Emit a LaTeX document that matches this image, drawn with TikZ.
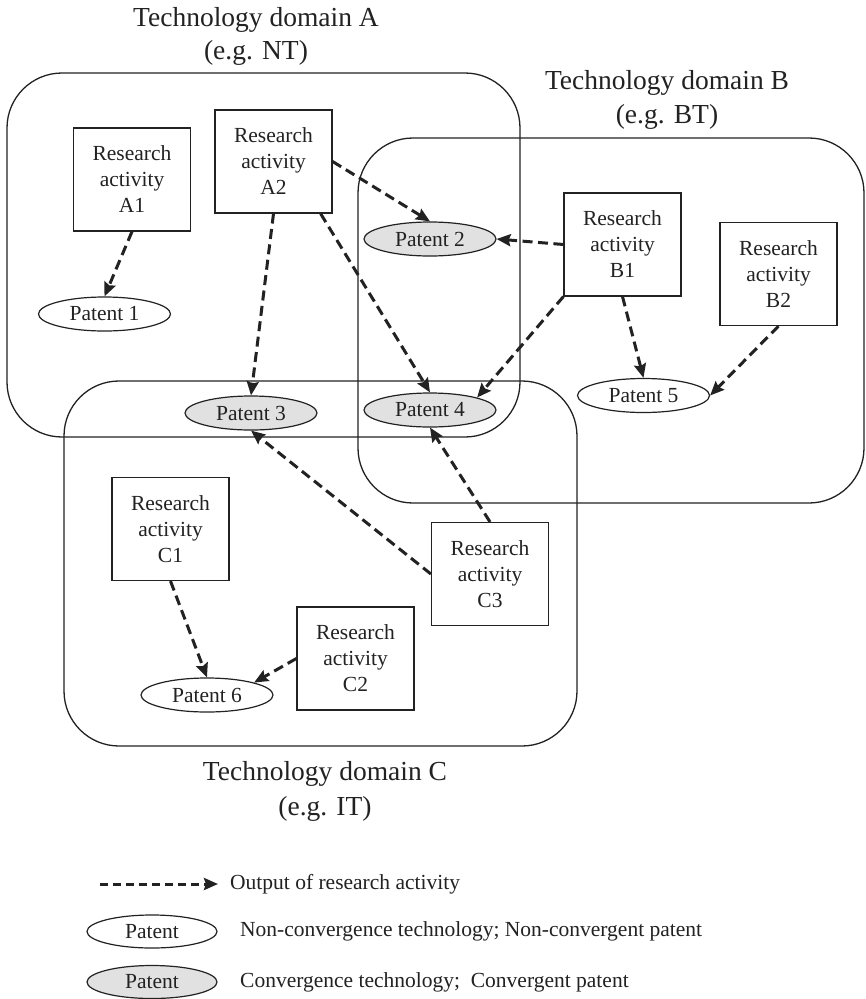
\documentclass[tikz,border=0pt]{standalone}
\usepackage{fontspec}
\setmainfont{Liberation Serif}
\usetikzlibrary{arrows.meta,shapes.geometric}
\definecolor{ink}{HTML}{222222}
\definecolor{pgray}{HTML}{E1E1E1}
\begin{document}
\begin{tikzpicture}[x=1pt,y=-1pt,
  techdomain/.style={draw=ink, line width=1.3pt, rounded corners=55pt},
  activity/.style={draw=ink, fill=white, line width=1.2pt, minimum width=117pt, minimum height=103pt, inner sep=0pt, align=center, font=\fontsize{21.5}{26}\selectfont, text=ink},
  patent/.style={ellipse, draw=ink, fill=white, line width=1.2pt, minimum width=132pt, minimum height=34pt, inner sep=0pt, font=\fontsize{21.5}{26}\selectfont, text=ink},
  convpatent/.style={patent, fill=pgray},
  outarrow/.style={draw=ink, line width=3pt, dash pattern=on 10pt off 5.5pt, -{Stealth[length=14pt,width=12pt,inset=2pt]}},
  titletext/.style={anchor=base, font=\fontsize{27.5}{33}\selectfont, text=ink, inner sep=0pt},
  legendtext/.style={anchor=west, font=\fontsize{21.5}{26}\selectfont, text=ink, inner sep=0pt}
]
\useasboundingbox (0,0) rectangle (866,999);
\fill[white] (0,0) rectangle (866,999);

% domains
\draw[techdomain] (7,73) rectangle (520,437);
\draw[techdomain] (358,138) rectangle (864,503);
\draw[techdomain] (64,381) rectangle (577,746);

% titles
\node[titletext] (tA1) at (256,26) {Technology domain A};
\node[titletext] (tA2) at (256,59) {(e.g. NT)};
\node[titletext] (tB1) at (667,89) {Technology domain B};
\node[titletext] (tB2) at (667,123) {(e.g. BT)};
\node[titletext] (tC1) at (325,780) {Technology domain C};
\node[titletext] (tC2) at (325,815) {(e.g. IT)};

% research activities
\node[activity] (A1) at (132,179.5) {Research\\activity\\A1};
\node[activity] (A2) at (273.5,161.5) {Research\\activity\\A2};
\node[activity] (B1) at (622.5,244.5) {Research\\activity\\B1};
\node[activity] (B2) at (778.5,274) {Research\\activity\\B2};
\node[activity] (C1) at (170.5,529) {Research\\activity\\C1};
\node[activity] (C2) at (355.5,658.5) {Research\\activity\\C2};
\node[activity] (C3) at (490,574) {Research\\activity\\C3};

% patents
\node[patent] (P1) at (104.5,314) {Patent 1};
\node[convpatent] (P2) at (430,239) {Patent 2};
\node[convpatent] (P3) at (251,413) {Patent 3};
\node[convpatent] (P4) at (430,410) {Patent 4};
\node[patent] (P5) at (643.5,395.5) {Patent 5};
\node[patent] (P6) at (207,695) {Patent 6};

% outputs
\draw[outarrow] (A1.south) -- (P1.north);
\draw[outarrow] (A2.south) -- (P3.north);
\draw[outarrow] (A2.east) -- (P2.north);
\draw[outarrow] ([xshift=-12pt]A2.south east) -- (P4.north);
\draw[outarrow] (B1.west) -- (P2.east);
\draw[outarrow] (B1.south west) -- (P4.north east);
\draw[outarrow] (B1.south) -- (P5.north);
\draw[outarrow] (B2.south) -- (P5.east);
\draw[outarrow] (C1.south) -- (P6.north);
\draw[outarrow] (C2.west) -- (P6.north east);
\draw[outarrow] (C3.west) -- (P3.south);
\draw[outarrow] (C3.north) -- (P4.south);

% legend
\coordinate (L0) at (100,884);
\coordinate (L1) at (218,884);
\draw[outarrow, dash pattern=on 8pt off 5pt] (L0) -- (L1);
\node[legendtext] (Ltxt) at (230,884) {Output of research activity};
\node[patent, minimum width=130pt, minimum height=33pt] (LP1) at (152,931.5) {Patent};
\node[legendtext] (Ltxt1) at (240,931.5) {Non-convergence technology; Non-convergent patent};
\node[convpatent, minimum width=130pt, minimum height=33pt] (LP2) at (152,982) {Patent};
\node[legendtext] (Ltxt2) at (240,982) {Convergence technology;~ Convergent patent};
\end{tikzpicture}
\end{document}
